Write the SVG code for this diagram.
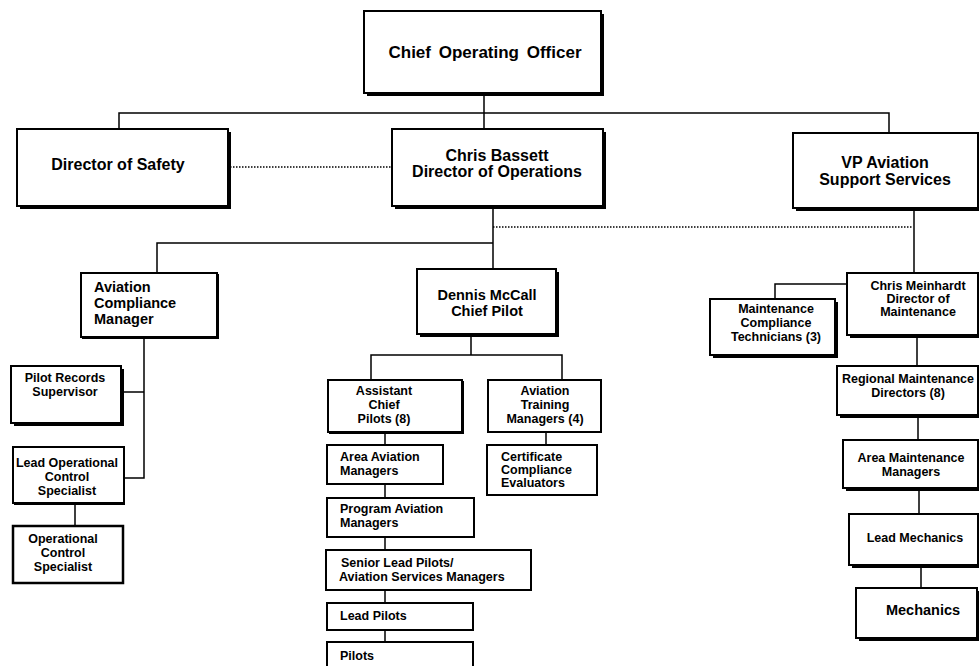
<svg xmlns="http://www.w3.org/2000/svg" width="979" height="666" viewBox="0 0 979 666">
<style>
.box{fill:#fff;stroke:#000;stroke-width:2}
.sh{fill:#000}
.ln{fill:none;stroke:#000;stroke-width:1.5}
.dot{fill:none;stroke:#000;stroke-width:1.5;stroke-dasharray:1.5 1.5}
text{font-family:"Liberation Sans",Arial,sans-serif;font-weight:bold;fill:#000}
.big{font-size:16px}
.med{font-size:14.5px}
.sm{font-size:12.5px}
.c{text-anchor:middle}
</style>
<rect width="979" height="666" fill="#fff"/>
<g id="connectors">
<path class="ln" d="M484 93V129M119 129V113H889V133"/>
<path class="dot" d="M230 167H391"/>
<path class="ln" d="M493 206V269M157 273V243H493"/>
<path class="dot" d="M493 227H913"/>
<path class="ln" d="M914 208V273"/>
<path class="ln" d="M144 337V478H124M121 392H144M75 503V526"/>
<path class="ln" d="M471 334V355M371 380V355H562V380"/>
<path class="ln" d="M385 432V642M546 432V445"/>
<path class="ln" d="M848 284H775V299M917 335V366M918 415V440M919 488V514M921 565V588"/>
</g>
<g id="coo"><rect class="sh" x="367" y="14" width="237" height="82"/><rect class="box" x="364" y="11" width="237" height="82"/><text class="c" x="485" y="58" style="font-size:17px;word-spacing:3px">Chief Operating Officer</text></g>
<g id="dos"><rect class="sh" x="20" y="132" width="211" height="77"/><rect class="box" x="17" y="129" width="211" height="77"/><text class="big c" x="118" y="170">Director of Safety</text></g>
<g id="dirops"><rect class="sh" x="395" y="132" width="211" height="77"/><rect class="box" x="392" y="129" width="211" height="77"/><text class="big c" x="497" y="161">Chris Bassett</text><text class="big c" x="497" y="177">Director of Operations</text></g>
<g id="vp"><rect class="sh" x="796" y="136" width="184" height="75"/><rect class="box" x="793" y="133" width="185" height="75"/><text class="big c" x="885" y="168">VP Aviation</text><text class="big c" x="885" y="185">Support Services</text></g>
<g id="acm"><rect class="sh" x="82" y="274" width="137" height="65"/><rect class="box" x="81" y="273" width="136" height="64"/><text class="med" x="94" y="292">Aviation</text><text class="med" x="94" y="308">Compliance</text><text class="med" x="94" y="324">Manager</text></g>
<g id="prs"><rect class="sh" x="14" y="369" width="110" height="57"/><rect class="box" x="11" y="366" width="110" height="57"/><text class="sm c" x="65" y="382">Pilot Records</text><text class="sm c" x="65" y="396">Supervisor</text></g>
<g id="locs"><rect class="sh" x="14" y="448" width="111" height="57"/><rect class="box" x="13" y="447" width="111" height="56"/><text class="sm c" x="67" y="467">Lead Operational</text><text class="sm c" x="67" y="481">Control</text><text class="sm c" x="67" y="495">Specialist</text></g>
<g id="ocs"><rect class="box" x="13" y="526" width="110" height="57" style="stroke-width:2.5"/><text class="sm c" x="63" y="543">Operational</text><text class="sm c" x="63" y="557">Control</text><text class="sm c" x="63" y="571">Specialist</text></g>
<g id="mccall"><rect class="sh" x="420" y="272" width="139" height="65"/><rect class="box" x="417" y="269" width="139" height="65"/><text class="med c" x="487" y="300">Dennis McCall</text><text class="med c" x="487" y="316">Chief Pilot</text></g>
<g id="acp"><rect class="sh" x="329" y="381" width="135" height="53"/><rect class="box" x="328" y="380" width="134" height="52"/><text class="sm c" x="384" y="395">Assistant</text><text class="sm c" x="384" y="409">Chief</text><text class="sm c" x="384" y="423">Pilots (8)</text></g>
<g id="atm"><rect class="box" x="488" y="380" width="113" height="52"/><text class="sm c" x="545" y="395">Aviation</text><text class="sm c" x="545" y="409">Training</text><text class="sm c" x="545" y="423">Managers (4)</text></g>
<g id="aam"><rect class="box" x="327" y="445" width="116" height="39"/><text class="sm" x="340" y="461">Area Aviation</text><text class="sm" x="340" y="475">Managers</text></g>
<g id="pam"><rect class="box" x="327" y="498" width="147" height="39"/><text class="sm" x="340" y="513">Program Aviation</text><text class="sm" x="340" y="527">Managers</text></g>
<g id="slp"><rect class="box" x="326" y="550" width="205" height="40"/><text class="sm" x="341" y="567">Senior Lead Pilots/</text><text class="sm" x="339" y="581">Aviation Services Managers</text></g>
<g id="lp"><rect class="box" x="327" y="603" width="146" height="27"/><text class="sm" x="340" y="620">Lead Pilots</text></g>
<g id="pilots"><rect class="box" x="327" y="642" width="146" height="32"/><text class="sm" x="340" y="660">Pilots</text></g>
<g id="cce"><rect class="box" x="487" y="445" width="110" height="50"/><text class="sm" x="501" y="461">Certificate</text><text class="sm" x="501" y="474">Compliance</text><text class="sm" x="501" y="487">Evaluators</text></g>
<g id="meinhardt"><rect class="sh" x="850" y="276" width="131" height="62"/><rect class="box" x="847" y="273" width="131" height="62"/><text class="sm c" x="918" y="290">Chris Meinhardt</text><text class="sm c" x="918" y="303">Director of</text><text class="sm c" x="918" y="316">Maintenance</text></g>
<g id="mct"><rect class="sh" x="713" y="302" width="125" height="56"/><rect class="box" x="710" y="299" width="125" height="56"/><text class="sm c" x="776" y="313">Maintenance</text><text class="sm c" x="776" y="327">Compliance</text><text class="sm c" x="776" y="341">Technicians (3)</text></g>
<g id="rmd"><rect class="sh" x="840" y="369" width="141" height="49"/><rect class="box" x="837" y="366" width="141" height="49"/><text class="sm c" x="908" y="383">Regional Maintenance</text><text class="sm c" x="908" y="397">Directors (8)</text></g>
<g id="amm"><rect class="sh" x="846" y="443" width="135" height="48"/><rect class="box" x="843" y="440" width="135" height="48"/><text class="sm c" x="911" y="462">Area Maintenance</text><text class="sm c" x="911" y="476">Managers</text></g>
<g id="lm"><rect class="sh" x="852" y="517" width="130" height="51"/><rect class="box" x="849" y="514" width="129" height="51"/><text class="sm c" x="915" y="542">Lead Mechanics</text></g>
<g id="mech"><rect class="sh" x="859" y="591" width="121" height="50"/><rect class="box" x="856" y="588" width="121" height="50"/><text class="med c" x="923" y="615">Mechanics</text></g>
</svg>
